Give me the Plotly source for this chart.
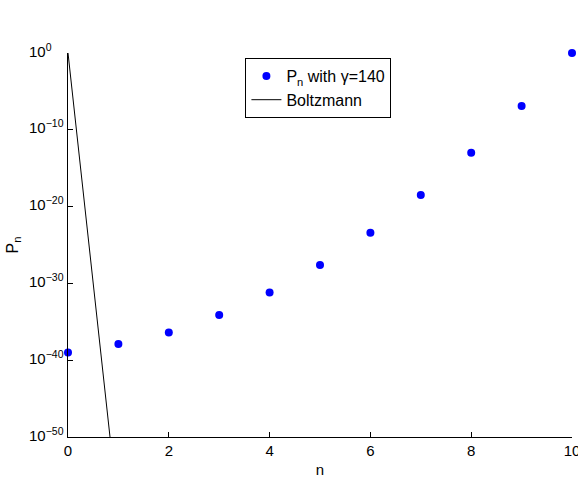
import math
import plotly.graph_objects as go

n_vals = [0, 1, 2, 3, 4, 5, 6, 7, 8, 9, 10]
log10_pn = [-39.0, -37.9, -36.4, -34.1, -31.2, -27.6, -23.4, -18.5, -13.0, -6.9, 0.0]
pn_vals = [10 ** v for v in log10_pn]

boltz_n = [0, 1]
boltz_p = [1e0, 1e-60]

ytick_vals = [1e0, 1e-10, 1e-20, 1e-30, 1e-40, 1e-50]
ytick_text = ["10<sup>0</sup>", "10<sup>−10</sup>", "10<sup>−20</sup>",
              "10<sup>−30</sup>", "10<sup>−40</sup>", "10<sup>−50</sup>"]
xtick_vals = [0, 2, 4, 6, 8, 10]

FONT = "Liberation Sans, Arial, Helvetica, sans-serif"
font = dict(family=FONT, size=14, color="black")

fig = go.Figure()
fig.add_trace(go.Scatter(
    x=n_vals, y=pn_vals, mode="markers",
    marker=dict(color="#0000ff", size=8),
    name="P<sub>n</sub> with γ=140", cliponaxis=False))
fig.add_trace(go.Scatter(
    x=boltz_n, y=boltz_p, mode="lines",
    line=dict(color="black", width=1),
    name="Boltzmann"))

# y tick labels: base "10" left-aligned at a fixed column, as in the reference
for v, t in zip(ytick_vals, ytick_text):
    fig.add_annotation(x=-41 / 504, xref="paper", y=math.log10(v), yref="y",
                       text=t, showarrow=False, xanchor="left", yanchor="middle",
                       yshift=3, font=dict(family=FONT, size=15, color="black"))

fig.update_layout(
    width=578, height=484,
    margin=dict(l=68, r=6, t=53, b=47, autoexpand=False),
    paper_bgcolor="white", plot_bgcolor="white",
    font=font,
    showlegend=True,
    legend=dict(x=0.352, y=0.987, xanchor="left", yanchor="top",
                bordercolor="black", borderwidth=1, bgcolor="white",
                font=dict(size=16), tracegroupgap=0),
    xaxis=dict(range=[0, 10], tickvals=xtick_vals, ticks="inside", ticklen=5,
               tickcolor="black", showline=True, linecolor="black", linewidth=1,
               showgrid=False, zeroline=False, ticklabeloverflow="allow",
               automargin=False, tickfont=dict(size=15),
               title=dict(text="n", standoff=6, font=dict(size=15))),
    yaxis=dict(type="log", range=[-50, 0], tickvals=ytick_vals,
               showticklabels=False, automargin=False,
               ticks="inside", ticklen=5, tickcolor="black", showline=True,
               linecolor="black", linewidth=1, showgrid=False, zeroline=False,
               title=dict(text="P<sub>n</sub>", standoff=44, font=dict(size=16))),
)

fig.write_html("out.html")
